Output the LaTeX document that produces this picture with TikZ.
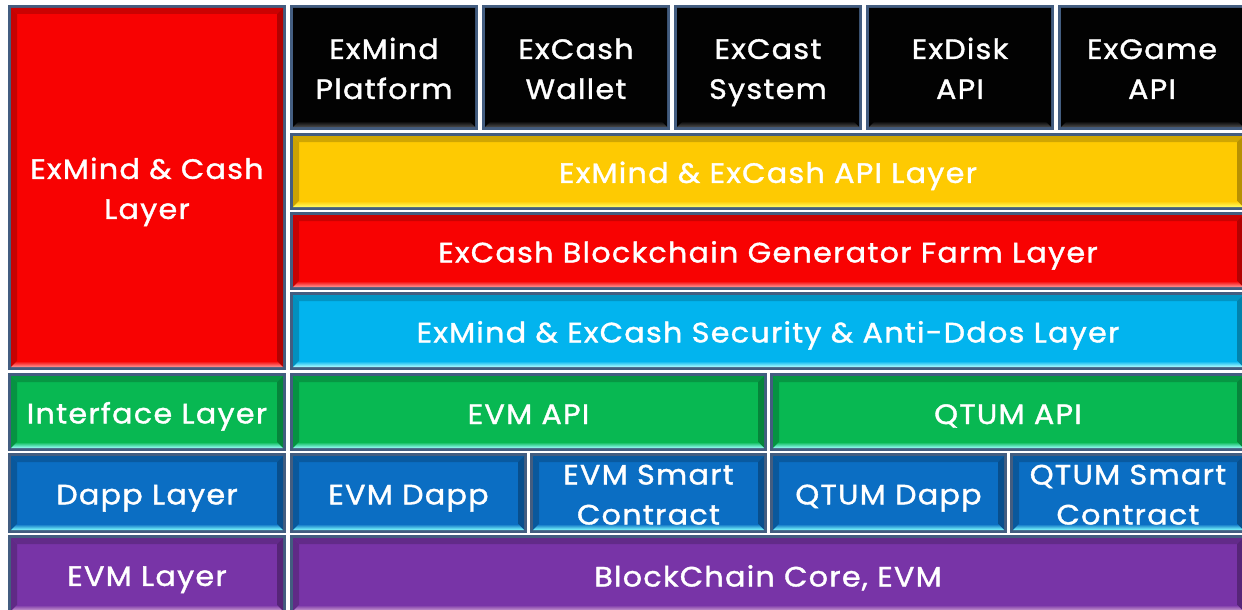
\documentclass[tikz,border=0pt]{standalone}
\usepackage{fontspec}
\setmainfont{Poppins}[FakeStretch=1.08, LetterSpace=4.5, FakeBold=1.3]
\definecolor{bordc}{HTML}{435D80}
\definecolor{cred}{HTML}{F80202}
\definecolor{cyel}{HTML}{FECA02}
\definecolor{ccya}{HTML}{02B4EE}
\definecolor{cgrn}{HTML}{08B852}
\definecolor{cblu}{HTML}{0B6EC3}
\definecolor{cpur}{HTML}{7834A7}
\definecolor{cblk}{HTML}{020202}
\newcommand\ms{\rule[-6pt]{0pt}{36pt}}
\newcommand\mt{\rule[-7pt]{0pt}{36pt}}
\tikzset{lbl/.style={text=white, align=center, font=\fontsize{28}{40}\selectfont, inner sep=0pt}}
% name, x0, y0, x1, y1, colour, bottom-light colour, text
\newcommand\lyrbox[8]{%
  \fill[bordc] (#2,#3) rectangle (#4,#5);
  \fill[#6] (#2+3,#3+3) rectangle (#4-3,#5-3);
  \fill[#6!82!black] (#2+3,#3+3) -- (#4-3,#3+3) -- (#4-9,#3+9) -- (#2+9,#3+9) -- cycle;
  \fill[#6!80!black] (#2+3,#3+3) -- (#2+9,#3+9) -- (#2+9,#5-9) -- (#2+3,#5-3) -- cycle;
  \fill[#6!72!black] (#4-3,#3+3) -- (#4-9,#3+9) -- (#4-9,#5-9) -- (#4-3,#5-3) -- cycle;
  \shade[top color=#6, bottom color=#7] (#2+3,#5-3) -- (#2+9,#5-9) -- (#4-9,#5-9) -- (#4-3,#5-3) -- cycle;
  \node[lbl] (#1) at ({(#2+#4)/2},{(#3+#5)/2}) {\ms #8};
}
\begin{document}
\begin{tikzpicture}[x=1pt,y=-1pt]
\useasboundingbox[fill=white] (0,0) rectangle (1242,610);
% left column
\lyrbox{lcash}{8}{5}{286}{370}{cred}{red!40!white}{ExMind \& Cash\\\mt Layer}
\lyrbox{linter}{8}{373}{286}{451}{cgrn}{cyan!40!white}{Interface Layer}
\lyrbox{ldapp}{8}{453}{286}{533}{cblu}{cyan!50!white}{Dapp Layer}
\lyrbox{levm}{8}{535}{286}{614}{cpur}{violet!35!white}{EVM Layer}
% top row
\lyrbox{exmind}{290}{5}{478}{130}{cblk}{gray!60!black}{ExMind\\\mt Platform}
\lyrbox{excash}{482}{5}{670}{130}{cblk}{gray!60!black}{ExCash\\\mt Wallet}
\lyrbox{excast}{674}{5}{862}{130}{cblk}{gray!60!black}{ExCast\\\mt System}
\lyrbox{exdisk}{866}{5}{1054}{130}{cblk}{gray!60!black}{ExDisk\\\mt API}
\lyrbox{exgame}{1058}{5}{1246}{130}{cblk}{gray!60!black}{ExGame\\\mt API}
% wide layers
\lyrbox{apil}{290}{133}{1246}{210}{cyel}{yellow!60!white}{ExMind \& ExCash API Layer}
\lyrbox{farm}{290}{212}{1246}{290}{cred}{red!40!white}{ExCash Blockchain Generator Farm Layer}
\lyrbox{secu}{290}{292}{1246}{370}{ccya}{cyan!30!white}{ExMind \& ExCash Security \& Anti-Ddos Layer}
% interface
\lyrbox{evmapi}{290}{373}{767}{451}{cgrn}{cyan!40!white}{EVM API}
\lyrbox{qtumapi}{770}{373}{1246}{451}{cgrn}{cyan!40!white}{QTUM API}
% dapp
\lyrbox{evmdapp}{290}{453}{527}{533}{cblu}{cyan!50!white}{EVM Dapp}
\lyrbox{evmsc}{530}{453}{767}{533}{cblu}{cyan!50!white}{EVM Smart\\\mt Contract}
\lyrbox{qtumdapp}{770}{453}{1007}{533}{cblu}{cyan!50!white}{QTUM Dapp}
\lyrbox{qtumsc}{1010}{453}{1246}{533}{cblu}{cyan!50!white}{QTUM Smart\\\mt Contract}
% core
\lyrbox{core}{290}{535}{1246}{614}{cpur}{violet!35!white}{BlockChain Core, EVM}
\end{tikzpicture}
\end{document}
